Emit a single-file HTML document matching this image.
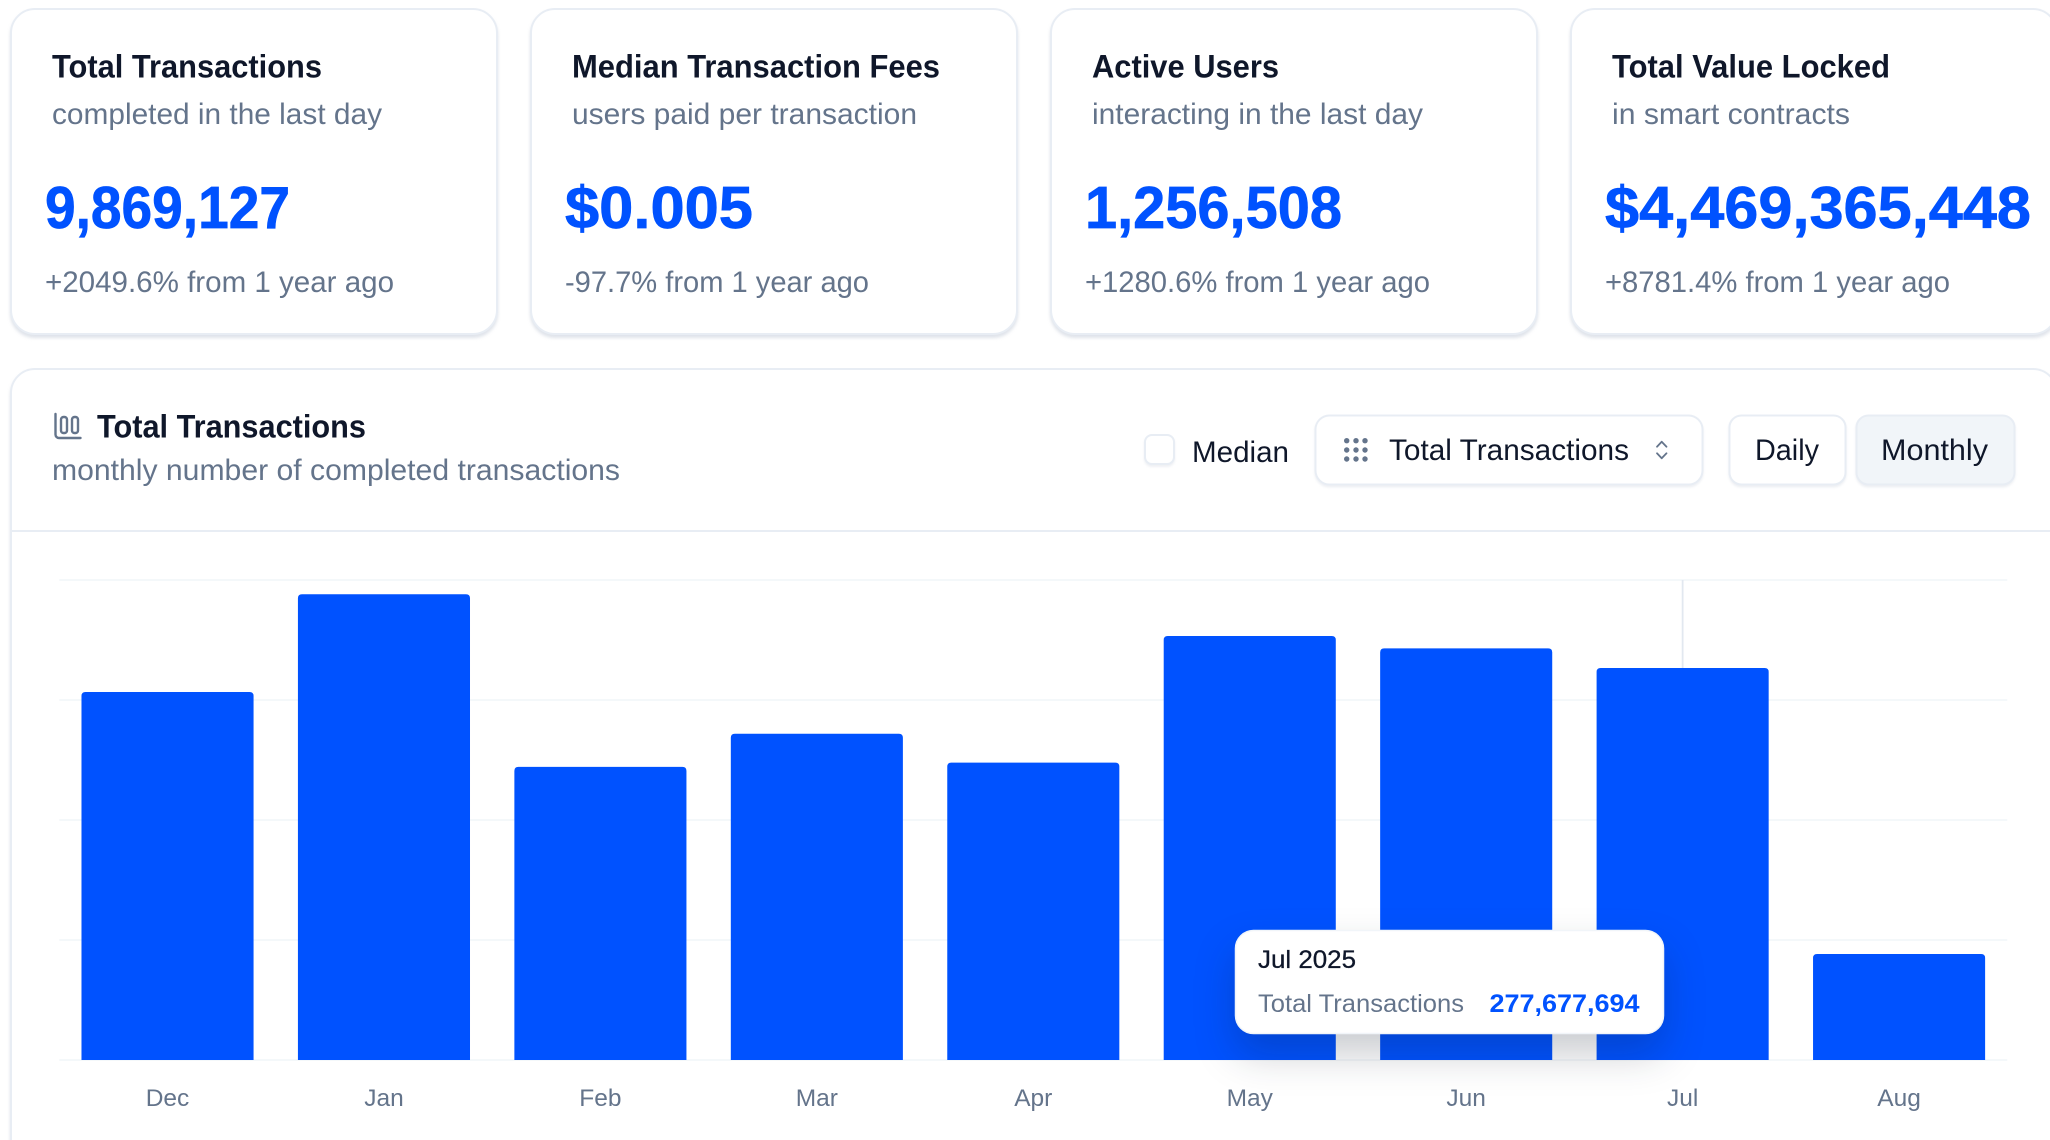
<!DOCTYPE html>
<html lang="en">
<head>
<meta charset="utf-8">
<title>Network Metrics Dashboard</title>
<style>
html,body{margin:0;padding:0;width:2050px;height:1140px;overflow:hidden;background:#fff}
svg{display:block;font-family:"Liberation Sans",sans-serif}
.card{fill:#fff;stroke:#e8edf4;stroke-width:2;filter:drop-shadow(0 3px 1.5px rgba(148,163,184,.3))}
.ctl{fill:#fff;stroke:#e8edf4;stroke-width:2;filter:drop-shadow(0 2px 1px rgba(148,163,184,.16))}
.title{font-size:32px;font-weight:700;fill:#0f172a}
.sub{font-size:29.5px;fill:#64748b}
.val{font-size:59px;font-weight:700;fill:#0052ff;stroke:#0052ff;stroke-width:.7}
.ctext{font-size:29.5px;fill:#0f172a}
.axis{font-size:24.5px;fill:#64748b;text-anchor:middle}
</style>
</head>
<body>
<svg id="page" width="2050" height="1140" viewBox="0 0 2050 1140">

  <g>
    <rect class="card" x="11" y="9" width="486" height="325" rx="24"/>
    <text class="title" x="52" y="77.5" textLength="270" lengthAdjust="spacingAndGlyphs">Total Transactions</text>
    <text class="sub" x="52" y="124" textLength="330" lengthAdjust="spacingAndGlyphs">completed in the last day</text>
    <text class="val" x="45" y="228" textLength="245" lengthAdjust="spacingAndGlyphs">9,869,127</text>
    <text class="sub" x="45" y="292" textLength="349" lengthAdjust="spacingAndGlyphs">+2049.6% from 1 year ago</text>
  </g>

  <g>
    <rect class="card" x="531" y="9" width="486" height="325" rx="24"/>
    <text class="title" x="572" y="77.5" textLength="368" lengthAdjust="spacingAndGlyphs">Median Transaction Fees</text>
    <text class="sub" x="572" y="124" textLength="345" lengthAdjust="spacingAndGlyphs">users paid per transaction</text>
    <text class="val" x="565" y="228" textLength="188" lengthAdjust="spacingAndGlyphs">$0.005</text>
    <text class="sub" x="565" y="292" textLength="304" lengthAdjust="spacingAndGlyphs">-97.7% from 1 year ago</text>
  </g>

  <g>
    <rect class="card" x="1051" y="9" width="486" height="325" rx="24"/>
    <text class="title" x="1092" y="77.5" textLength="187" lengthAdjust="spacingAndGlyphs">Active Users</text>
    <text class="sub" x="1092" y="124" textLength="331" lengthAdjust="spacingAndGlyphs">interacting in the last day</text>
    <text class="val" x="1085" y="228" textLength="257" lengthAdjust="spacingAndGlyphs">1,256,508</text>
    <text class="sub" x="1085" y="292" textLength="345" lengthAdjust="spacingAndGlyphs">+1280.6% from 1 year ago</text>
  </g>

  <g>
    <rect class="card" x="1571" y="9" width="486" height="325" rx="24"/>
    <text class="title" x="1612" y="77.5" textLength="278" lengthAdjust="spacingAndGlyphs">Total Value Locked</text>
    <text class="sub" x="1612" y="124" textLength="238" lengthAdjust="spacingAndGlyphs">in smart contracts</text>
    <text class="val" x="1605" y="228" textLength="426" lengthAdjust="spacingAndGlyphs">$4,469,365,448</text>
    <text class="sub" x="1605" y="292" textLength="345" lengthAdjust="spacingAndGlyphs">+8781.4% from 1 year ago</text>
  </g>

  <g>
    <rect class="card" x="11" y="369" width="2046" height="800" rx="24"/>
    <line x1="12" y1="531" x2="2050" y2="531" stroke="#e8edf4" stroke-width="2"/>

    <g fill="none" stroke="#64748b" stroke-width="2.4" stroke-linecap="round" stroke-linejoin="round">
      <path d="M55.5 414V434.5a3.5 3.5 0 0 0 3.5 3.5H80.5"/>
      <rect x="61" y="417" width="6" height="16" rx="2.5"/>
      <rect x="72" y="417" width="6" height="16" rx="2.5"/>
    </g>
    <text class="title" x="97" y="437.5" textLength="269" lengthAdjust="spacingAndGlyphs">Total Transactions</text>
    <text class="sub" x="52" y="480" textLength="568" lengthAdjust="spacingAndGlyphs">monthly number of completed transactions</text>

    <g>
      <rect class="ctl" x="1145" y="435" width="29" height="29" rx="7"/>
      <text class="ctext" x="1192" y="462" textLength="97" lengthAdjust="spacingAndGlyphs">Median</text>
    </g>

    <g>
      <rect class="ctl" x="1315.5" y="415.5" width="387" height="69" rx="14"/>
      <g fill="#64748b">
        <circle cx="1346.7" cy="440.7" r="2.7"/><circle cx="1356" cy="440.7" r="2.7"/><circle cx="1365" cy="440.7" r="2.7"/>
        <circle cx="1346.7" cy="450" r="2.7"/><circle cx="1356" cy="450" r="2.7"/><circle cx="1365" cy="450" r="2.7"/>
        <circle cx="1346.7" cy="459" r="2.7"/><circle cx="1356" cy="459" r="2.7"/><circle cx="1365" cy="459" r="2.7"/>
      </g>
      <text class="ctext" x="1389" y="460" textLength="240" lengthAdjust="spacingAndGlyphs">Total Transactions</text>
      <path d="M1657 446.7L1661.7 441.7L1666.5 446.7M1657 453.3L1661.7 458.3L1666.5 453.3" fill="none" stroke="#64748b" stroke-width="1.8" stroke-linecap="round" stroke-linejoin="round"/>
    </g>

    <g>
      <rect class="ctl" x="1729.5" y="415.5" width="116" height="69" rx="12"/>
      <text class="ctext" x="1755" y="460" textLength="64" lengthAdjust="spacingAndGlyphs">Daily</text>
    </g>
    <g>
      <rect class="ctl" x="1856.5" y="415.5" width="158" height="69" rx="12" style="fill:#f1f5f9"/>
      <text class="ctext" x="1881" y="460" textLength="107" lengthAdjust="spacingAndGlyphs">Monthly</text>
    </g>
  </g>

  <g id="chart">
    <g id="grid"></g>
    <g id="cursor"></g>
    <g id="bars"></g>
    <g id="xlabels"></g>
  </g>

  <g>
    <rect x="1235.5" y="930.5" width="428" height="103" rx="18" fill="#fff" stroke="#f1f5f9" stroke-width="1.5" style="filter:drop-shadow(0 20px 20px rgba(15,23,42,.22))"/>
    <text id="tipLabel" x="1258" y="968" font-size="25" fill="#0f172a" stroke="#0f172a" stroke-width=".3" textLength="98" lengthAdjust="spacingAndGlyphs">Jul 2025</text>
    <text x="1258" y="1012" font-size="25" fill="#64748b" textLength="206" lengthAdjust="spacingAndGlyphs">Total Transactions</text>
    <text id="tipValue" x="1489.5" y="1012" font-size="25" font-weight="700" fill="#0052ff" textLength="150" lengthAdjust="spacingAndGlyphs">277,677,694</text>
  </g>
</svg>

<script>
const categories = ['Dec','Jan','Feb','Mar','Apr','May','Jun','Jul','Aug'];
const transactions = [260700000,329900000,207600000,231100000,210600000,300300000,291600000,277677694,75100000];
const yTicks = [0,85000000,170000000,255000000,340000000];
const hoveredCategory = 'Jul';

const NS = 'http://www.w3.org/2000/svg';
const plotLeft = 59.3, plotRight = 2007.3, plotTop = 580, plotBottom = 1060;
const yMax = yTicks[yTicks.length - 1];
const band = (plotRight - plotLeft) / categories.length;
const barWidth = band * 0.795;
function yScale(v){ return plotBottom - (v / yMax) * (plotBottom - plotTop); }
function xCenter(i){ return plotLeft + band * (i + 0.5); }

const gridGroup = document.getElementById('grid');
yTicks.forEach(function(t){
  const line = document.createElementNS(NS,'line');
  line.setAttribute('x1', plotLeft);
  line.setAttribute('x2', plotRight);
  line.setAttribute('y1', yScale(t));
  line.setAttribute('y2', yScale(t));
  line.setAttribute('stroke', '#f1f5f9');
  line.setAttribute('stroke-width', '1.6');
  
  
  gridGroup.appendChild(line);
});

const hoverIndex = categories.indexOf(hoveredCategory);
const cursor = document.createElementNS(NS,'line');
cursor.setAttribute('x1', xCenter(hoverIndex));
cursor.setAttribute('x2', xCenter(hoverIndex));
cursor.setAttribute('y1', plotTop);
cursor.setAttribute('y2', plotBottom);
cursor.setAttribute('stroke', '#e2e8f0');
cursor.setAttribute('stroke-width', '1.8');


document.getElementById('cursor').appendChild(cursor);

const barsGroup = document.getElementById('bars');
const labelGroup = document.getElementById('xlabels');
categories.forEach(function(c,i){
  const top = yScale(transactions[i]);
  const left = xCenter(i) - barWidth / 2;
  const r = 4;
  const bar = document.createElementNS(NS,'path');
  bar.setAttribute('d', 'M' + left + ' ' + plotBottom + 'V' + (top + r) + 'Q' + left + ' ' + top + ' ' + (left + r) + ' ' + top +
    'H' + (left + barWidth - r) + 'Q' + (left + barWidth) + ' ' + top + ' ' + (left + barWidth) + ' ' + (top + r) + 'V' + plotBottom + 'Z');
  bar.setAttribute('fill', '#0052ff');
  
  
  barsGroup.appendChild(bar);

  const label = document.createElementNS(NS,'text');
  label.setAttribute('class', 'axis');
  label.setAttribute('x', xCenter(i));
  label.setAttribute('y', 1106);
  label.textContent = c;
  
  
  labelGroup.appendChild(label);
});

document.getElementById('tipValue').textContent = transactions[hoverIndex].toLocaleString('en-US');
</script>
</body>
</html>
